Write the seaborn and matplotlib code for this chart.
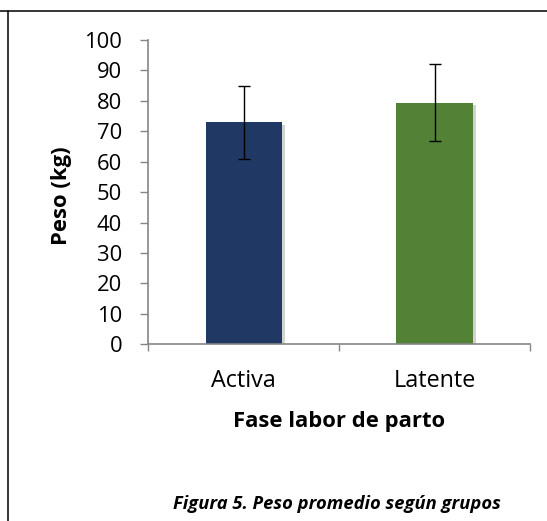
import matplotlib
matplotlib.use("Agg")
import matplotlib.pyplot as plt
import matplotlib.patheffects as pe
from matplotlib.lines import Line2D
import seaborn as sns
import pandas as pd

# ---- data ----
categories = ["Activa", "Latente"]
means = [72.9, 79.4]
errors = [11.9, 12.6]
bar_colors = ["#1F3864", "#538135"]
y_ticks = [0, 10, 20, 30, 40, 50, 60, 70, 80, 90, 100]
x_title = "Fase labor de parto"
y_title = "Peso (kg)"
caption = "Figura 5. Peso promedio según grupos"

sns.set_theme(style="white")
plt.rcParams["font.family"] = ["Open Sans", "DejaVu Sans"]

W, H = 547, 521
fig = plt.figure(figsize=(W / 100, H / 100), dpi=100)

# axes placed in pixel coordinates
x0, x1 = 148.3, 530.0
ytop, ybot = 40.0, 344.3
ax = fig.add_axes([x0 / W, (H - ybot) / H, (x1 - x0) / W, (ybot - ytop) / H])

df = pd.DataFrame({"fase": categories, "peso": means})
sns.barplot(data=df, x="fase", y="peso", hue="fase", palette=bar_colors,
            width=0.4, errorbar=None, legend=False, ax=ax, saturation=1)
for p in ax.patches:
    p.set_path_effects([pe.SimplePatchShadow(offset=(2.5, -1.5), shadow_rgbFace="#7f7f7f", alpha=0.35),
                        pe.Normal()])
    p.set_edgecolor("none")

ax.errorbar(x=list(range(len(categories))), y=means, yerr=errors, fmt="none",
            ecolor="black", elinewidth=1.0, capsize=4.5, capthick=1.0, zorder=5)

ax.set_xlim(-0.5, len(categories) - 0.5)
ax.set_ylim(0, 100)
ax.set_yticks(y_ticks)
ax.set_yticklabels([str(v) for v in y_ticks])

for s in ["top", "right"]:
    ax.spines[s].set_visible(False)
for s in ["left", "bottom"]:
    ax.spines[s].set_color("#868686")
    ax.spines[s].set_linewidth(1.2)

ax.tick_params(axis="y", direction="out", length=5.8, width=1.0, color="#868686",
               labelsize=15.8, pad=13.0, left=True, labelcolor="black")
ax.tick_params(axis="x", which="major", length=0, labelsize=16.8, pad=18, labelcolor="black")
ax.set_xticks([i - 0.5 for i in range(len(categories) + 1)], minor=True)
ax.tick_params(axis="x", which="minor", direction="out", length=5, width=1.0,
               color="#868686", bottom=True)

ax.set_xlabel(x_title, fontsize=15.8, fontweight="bold", color="black")
ax.xaxis.label.set_verticalalignment("center")
ax.xaxis.set_label_coords((339 - x0) / (x1 - x0), (ybot - 421) / (ybot - ytop))

ax.set_ylabel(y_title, fontsize=15.8, fontweight="bold", color="black")
ax.yaxis.label.set_verticalalignment("center")
ax.yaxis.set_label_coords((61 - x0) / (x1 - x0), (ybot - 195.5) / (ybot - ytop))

fig.text(336.5 / W, (H - 504) / H, caption, ha="center", va="center",
         fontsize=13.2, fontweight="bold", fontstyle="italic", color="black")

# frame lines of the figure box
fig.add_artist(Line2D([0, 1], [(H - 10.5) / H] * 2, transform=fig.transFigure,
                      color="black", lw=1.1))
fig.add_artist(Line2D([8.3 / W] * 2, [0, (H - 10.5) / H], transform=fig.transFigure,
                      color="black", lw=1.1))

fig.savefig("out.png", dpi=100, facecolor="white")
